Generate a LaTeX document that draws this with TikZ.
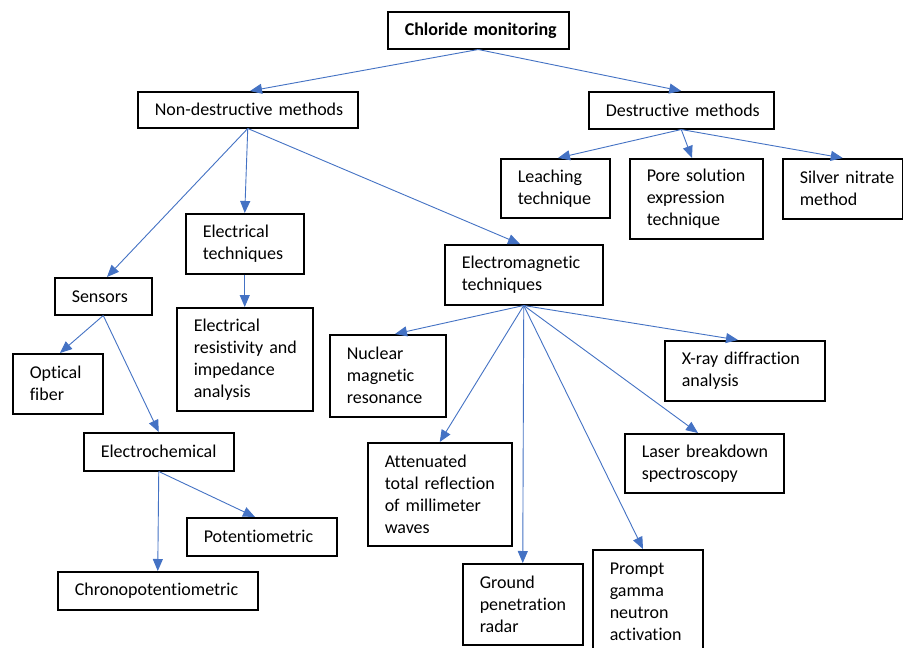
\documentclass[tikz,border=0pt]{standalone}
\usepackage{fontspec}
\setmainfont{Carlito}[RawFeature=-liga]
\usetikzlibrary{arrows.meta}
\definecolor{arr}{HTML}{4472C4}
\newcommand{\bxfont}{\fontsize{18}{22}\selectfont\hyphenpenalty=10000\exhyphenpenalty=10000\relax}
\begin{document}
\begin{tikzpicture}[x=1pt,y=-1pt,
  bx/.style={draw=black, line width=1.5pt, inner xsep=17pt, inner ysep=0pt,
    align=left, anchor=north west, font=\bxfont},
  ar/.style={draw=arr, line width=0.9pt, -{Triangle[length=12pt,width=10pt]}}]
\useasboundingbox (0,0) rectangle (903,648);
\fill[white] (0,0) rectangle (903,648);

\node[bx, minimum width=181pt, minimum height=37pt, text width=147pt, font=\bxfont\bfseries] (cm) at (387,11) {\mbox{Chloride monitoring}};
\node[bx, minimum width=220pt, minimum height=36pt, text width=186pt] (nd) at (137,91) {\mbox{Non-destructive methods}};
\node[bx, minimum width=185pt, minimum height=37pt, text width=151pt] (d) at (588,91) {\mbox{Destructive methods}};
\node[bx, minimum width=109pt, minimum height=59pt, text width=75pt] (leach) at (500,158) {Leaching\\technique};
\node[bx, minimum width=133pt, minimum height=80pt, text width=99pt] (pore) at (629,158) {\mbox{Pore solution}\\expression\\technique};
\node[bx, minimum width=120pt, minimum height=60pt, text width=86pt] (silver) at (782,158) {\mbox{Silver nitrate}\\method};
\node[bx, minimum width=118pt, minimum height=60pt, text width=84pt] (et) at (185,213) {Electrical\\techniques};
\node[bx, minimum width=97pt, minimum height=37pt, text width=63pt] (sens) at (54,277) {Sensors};
\node[bx, minimum width=90pt, minimum height=60pt, text width=56pt] (opt) at (12,353) {Optical\\fiber};
\node[bx, minimum width=136pt, minimum height=103pt, text width=102pt] (eri) at (176,307) {Electrical\\\mbox{resistivity and}\\impedance\\analysis};
\node[bx, minimum width=158pt, minimum height=60pt, text width=124pt] (em) at (444,244) {Electromagnetic\\techniques};
\node[bx, minimum width=116pt, minimum height=82pt, text width=82pt] (nmr) at (329,334) {Nuclear\\magnetic\\resonance};
\node[bx, minimum width=160pt, minimum height=60pt, text width=126pt] (xray) at (664,340) {\mbox{X-ray diffraction}\\analysis};
\node[bx, minimum width=150pt, minimum height=38pt, text width=116pt] (ec) at (83,432) {Electrochemical};
\node[bx, minimum width=150pt, minimum height=38pt, text width=116pt] (pot) at (186,517) {Potentiometric};
\node[bx, minimum width=200pt, minimum height=38pt, text width=166pt] (chrono) at (57,571) {Chronopotentiometric};
\node[bx, minimum width=159pt, minimum height=59pt, text width=125pt] (laser) at (624,433) {\mbox{Laser breakdown}\\spectroscopy};
\node[bx, minimum width=144pt, minimum height=103pt, text width=110pt] (atr) at (367,442) {Attenuated\\\mbox{total reflection}\\\mbox{of millimeter}\\waves};
\node[bx, minimum width=120pt, minimum height=81pt, text width=86pt] (gpr) at (462,563) {Ground\\penetration\\radar};
\node[bx, minimum width=110pt, minimum height=104pt, text width=76pt] (pgna) at (592,549) {Prompt\\gamma\\neutron\\activation};

\draw[ar] (cm.south) -- ([xshift=113pt]nd.north west);
\draw[ar] (cm.south) -- (d.north);
\draw[ar] (d.south) -- ([xshift=58pt]leach.north west);
\draw[ar] (d.south) -- ([xshift=63pt]pore.north west);
\draw[ar] (d.south) -- (silver.north);
\draw[ar] (nd.south) -- ([xshift=53pt]sens.north west);
\draw[ar] (nd.south) -- (et.north);
\draw[ar] (nd.south) -- ([xshift=76pt]em.north west);
\draw[ar] (et.south) -- (eri.north);
\draw[ar] (sens.south) -- ([xshift=48pt]opt.north west);
\draw[ar] (sens.south) -- (ec.north);
\draw[ar] (ec.south) -- (chrono.north);
\draw[ar] (ec.south) -- ([xshift=69pt]pot.north west);
\draw[ar] (em.south) -- ([xshift=66pt]nmr.north west);
\draw[ar] (em.south) -- ([xshift=74pt]xray.north west);
\draw[ar] (em.south) -- (atr.north);
\draw[ar] (em.south) -- (gpr.north);
\draw[ar] (em.south) -- ([xshift=51pt]pgna.north west);
\draw[ar] (em.south) -- ([xshift=74pt]laser.north west);
\end{tikzpicture}
\end{document}
